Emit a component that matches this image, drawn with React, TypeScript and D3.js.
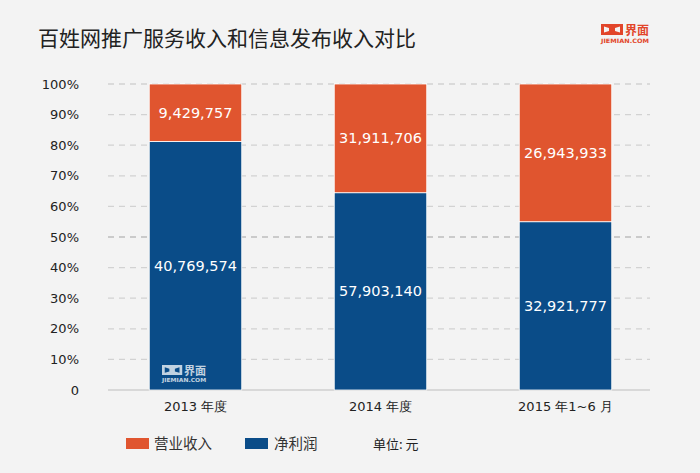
import React from 'react'
import * as d3 from 'd3'

// chart data
const categories = ['2013 年度', '2014 年度', '2015 年1~6 月']
const revenue = [9429757, 31911706, 26943933] // 营业收入
const profit = [40769574, 57903140, 32921777] // 净利润
const yTicks = [0, 0.1, 0.2, 0.3, 0.4, 0.5, 0.6, 0.7, 0.8, 0.9, 1]

const W = 700
const H = 473
const ORANGE = '#E0552F'
const BLUE = '#0A4C88'
const NUM_FONT = '"DejaVu Sans", Verdana, sans-serif'
const CJK_FONT = '"Noto Sans CJK SC", "Noto Sans", sans-serif'

function Logo({ x, y, color, scale = 1, opacity = 1 }: { x: number; y: number; color: string; scale?: number; opacity?: number }) {
  return (
    <g transform={`translate(${x},${y}) scale(${scale})`} opacity={opacity}>
      {/* frame icon */}
      <path
        d="M0,0 H22 V11 H0 Z M3,2.5 L8,4 V7 L3,8.5 Z M19,2.5 L14,4 V7 L19,8.5 Z"
        fill={color}
        fillRule="evenodd"
      />
      <rect x={3} y={2.5} width={16} height={6} fill="none" stroke="none" />
      <text x={24} y={10.5} fontSize={12} fontWeight="bold" fill={color} fontFamily={CJK_FONT}>
        界面
      </text>
      <text x={0} y={19} fontSize={6} fontWeight="bold" fill={color} fontFamily='"DejaVu Sans", sans-serif' textLength={48} lengthAdjust="spacingAndGlyphs">
        JIEMIAN.COM
      </text>
    </g>
  )
}

export default function App() {
  const rows = categories.map((c, i) => ({ cat: c, profit: profit[i], revenue: revenue[i] }))
  const stack = d3.stack<any>().keys(['profit', 'revenue']).offset(d3.stackOffsetExpand)
  const series = stack(rows)

  const x = d3.scaleBand<string>().domain(categories).range([103, 658]).paddingInner(0.5).paddingOuter(0.25)
  const y = d3.scaleLinear().domain([0, 1]).range([390, 84])
  const fmt = d3.format(',')
  const colors: Record<string, string> = { profit: BLUE, revenue: ORANGE }

  const gridX0 = 108
  const gridX1 = 650

  return (
    <div style={{ position: 'fixed', left: 0, top: 0 }}>
      <svg width={W} height={H} style={{ display: 'block', background: '#F3F3F3' }}>
        <text x={38} y={46} fontSize={21} fill="#222" fontFamily={CJK_FONT}>
          百姓网推广服务收入和信息发布收入对比
        </text>
        <Logo x={601} y={24} color="#E2452A" />

        {/* grid */}
        {yTicks.map((t) => (
          <g key={t}>
            {t > 0 && (
              <line
                x1={gridX0}
                x2={gridX1}
                y1={y(t)}
                y2={y(t)}
                stroke={t === 0.5 ? '#bdbdbd' : '#d2d2d2'}
                strokeWidth={1.3}
                strokeDasharray="6,5"
              />
            )}
            <text
              x={79}
              y={y(t)}
              dy="0.35em"
              textAnchor="end"
              fontSize={13}
              fill="#222"
              fontFamily={NUM_FONT}
            >
              {t === 0 ? '0' : d3.format('.0%')(t)}
            </text>
          </g>
        ))}
        <line x1={gridX0} x2={gridX1} y1={y(0)} y2={y(0)} stroke="#cfcfcf" strokeWidth={1.3} />

        {/* bars */}
        {series.map((s) => (
          <g key={s.key}>
            {s.map((d, i) => (
              <rect
                key={i}
                x={x(categories[i])}
                y={y(d[1])}
                width={x.bandwidth()}
                height={y(d[0]) - y(d[1])}
                fill={colors[s.key]}
                stroke="#fff"
                strokeWidth={0.8}
              />
            ))}
          </g>
        ))}

        {/* value labels */}
        {series.map((s) =>
          s.map((d, i) => (
            <text
              key={s.key + i}
              x={(x(categories[i]) || 0) + x.bandwidth() / 2}
              y={(y(d[0]) + y(d[1])) / 2}
              dy="0.35em"
              textAnchor="middle"
              fontSize={14.5}
              fill="#fff"
              fontFamily={NUM_FONT}
            >
              {fmt((d.data as any)[s.key])}
            </text>
          ))
        )}

        {/* watermark */}
        <Logo x={162} y={365} color="#ffffff" scale={0.92} opacity={0.75} />

        {/* x axis labels */}
        {categories.map((c) => (
          <text
            key={c}
            x={(x(c) || 0) + x.bandwidth() / 2}
            y={406}
            dy="0.35em"
            textAnchor="middle"
            fontSize={13}
            fill="#222"
            fontFamily={NUM_FONT}
          >
            {c}
          </text>
        ))}

        {/* legend */}
        <rect x={126} y={438} width={23} height={11} fill={ORANGE} />
        <text x={154} y={444} dy="0.35em" fontSize={14.5} fill="#333" fontFamily={CJK_FONT}>
          营业收入
        </text>
        <rect x={245} y={438} width={23} height={11} fill={BLUE} />
        <text x={274} y={444} dy="0.35em" fontSize={14.5} fill="#333" fontFamily={CJK_FONT}>
          净利润
        </text>
        <text x={373} y={444} dy="0.35em" fontSize={13} fill="#222" fontFamily={CJK_FONT}>
          单位: 元
        </text>
      </svg>
    </div>
  )
}
